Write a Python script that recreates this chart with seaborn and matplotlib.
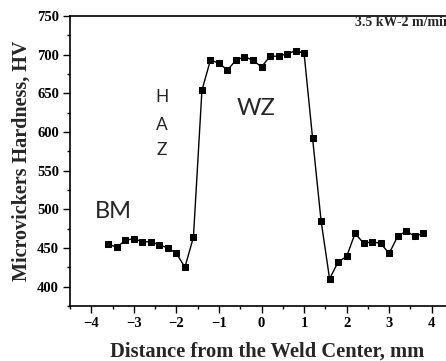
import pandas as pd
import matplotlib
matplotlib.use("Agg")
import matplotlib.pyplot as plt
import seaborn as sns
from matplotlib.ticker import MultipleLocator

# ── data ────────────────────────────────────────────────────────────────
distance = [-3.6, -3.4, -3.2, -3.0, -2.8, -2.6, -2.4, -2.2, -2.0, -1.8, -1.6,
            -1.4, -1.2, -1.0, -0.8, -0.6, -0.4, -0.2, 0.0, 0.2, 0.4, 0.6, 0.8,
            1.0, 1.2, 1.4, 1.6, 1.8, 2.0, 2.2, 2.4, 2.6, 2.8, 3.0, 3.2, 3.4,
            3.6, 3.8]
hardness = [455, 451, 460, 462, 458, 458, 454, 450, 443, 425, 464,
            654, 693, 689, 680, 693, 697, 693, 684, 698, 698, 701, 705,
            702, 592, 485, 410, 432, 439, 469, 456, 458, 456, 443, 465, 472,
            465, 469]

xticks = [-4, -3, -2, -1, 0, 1, 2, 3, 4]
yticks = [400, 450, 500, 550, 600, 650, 700, 750]

df = pd.DataFrame({"distance": distance, "hardness": hardness})

sns.set_style("ticks")
serif = ["Liberation Serif", "DejaVu Serif"]

fig = plt.figure(figsize=(4.46, 3.61), dpi=100)
# axes run past the right edge, like the cropped original
ax = fig.add_axes([0.157, 0.1524, 0.8587, 0.8033])

sns.lineplot(data=df, x="distance", y="hardness", ax=ax, color="black",
             linewidth=1.0, marker="s", markersize=5, markeredgecolor="black",
             markerfacecolor="black", legend=False)

ax.set_xlim(-4.5, 4.5)
ax.set_ylim(375, 750)
ax.set_xticks(xticks)
ax.set_yticks(yticks)
ax.xaxis.set_minor_locator(MultipleLocator(0.5))
ax.yaxis.set_minor_locator(MultipleLocator(25))
ax.tick_params(which="major", direction="out", length=5, width=1, colors="black", pad=3)
ax.tick_params(which="minor", direction="out", length=2.5, width=1, colors="black")
for lab in ax.get_xticklabels() + ax.get_yticklabels():
    lab.set_family(serif)
    lab.set_fontweight("bold")
    lab.set_fontsize(10.5)

for side in ["left", "bottom", "top", "right"]:
    ax.spines[side].set_visible(True)
    ax.spines[side].set_color("black")
    ax.spines[side].set_linewidth(1.2)

ax.set_xlabel("Distance from the Weld Center, mm", family=serif,
              fontweight="bold", fontsize=14.8)
ax.xaxis.set_label_coords(0.5155, -0.122)
ax.set_ylabel("Microvickers Hardness, HV", family=serif,
              fontweight="bold", fontsize=14.5, labelpad=4)

# ── region labels ───────────────────────────────────────────────────────
sans = ["Lato", "DejaVu Sans"]
for letter, yy in zip("HAZ", [645, 609, 577]):
    ax.text(-2.35, yy, letter, family=sans, fontsize=12.5, ha="center", va="center")
ax.text(-0.14, 630, "WZ", family=sans, fontsize=17, ha="center", va="center")
ax.text(-3.48, 497, "BM", family=sans, fontsize=17, ha="center", va="center")
ax.text(2.19, 741, "3.5 kW-2 m/min", family=serif, fontweight="bold",
        fontsize=10, ha="left", va="center")

fig.savefig("out.png", dpi=100)
